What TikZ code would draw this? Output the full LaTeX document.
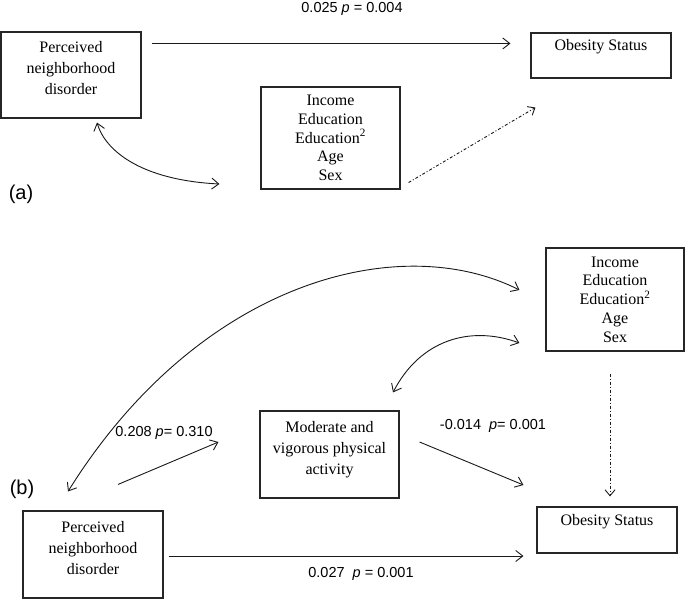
\documentclass[tikz,border=0pt]{standalone}
\usepackage{fontspec}
\setmainfont{Liberation Serif}
\setsansfont{Liberation Sans}
\usetikzlibrary{arrows.meta,calc}
\begin{document}
\begin{tikzpicture}[x=1pt,y=-1pt,
  box/.style={draw=black!85,line width=1.1pt,rectangle,inner sep=0pt,align=center,font=\fontsize{16}{21}\selectfont},
  covbox/.style={box,font=\fontsize{16}{18.7}\selectfont},
  lbl/.style={font=\sffamily\fontsize{14.5}{17}\selectfont,inner sep=0pt},
  panel/.style={font=\sffamily\fontsize{20}{22}\selectfont,inner sep=0pt},
  arr/.style={draw=black!90,line width=0.9pt,-{Straight Barb[length=7pt,width=11pt]}},
  darr/.style={draw=black!90,line width=0.9pt,{Straight Barb[length=7pt,width=11pt]}-{Straight Barb[length=7pt,width=11pt]}},
  dd/.style={draw=black!90,line width=0.9pt,dash pattern=on 3pt off 2pt on 1pt off 2pt,-{Straight Barb[length=6pt,width=10pt]}}
]
\useasboundingbox (0,0) rectangle (685,599);
\fill[white] (0,0) rectangle (685,599);

% ---------- panel (a) ----------
\node[box,minimum width=140pt,minimum height=86pt] (A1) at (71,75) {Perceived\\neighborhood\\disorder\\[-7pt]\mbox{}};
\node[box,minimum width=140pt,minimum height=45pt] (ObA) at (601,55.5) {Obesity Status\\\mbox{}};
\node[covbox,minimum width=139pt,minimum height=102pt] (CovA) at (330.5,138) {Income\\Education\\Education\textsuperscript{2}\\Age\\Sex};
\node[lbl] (LA) at (352,9) {0.025 \textit{p} = 0.004};
\node[panel] (PA) at (21,194) {(a)};

\draw[arr] ($(A1.north east)+(10,12)$) -- ($(ObA.north west)+(-20,11)$);
\draw[dd] ($(CovA.south east)+(8,-7)$) -- ($(ObA.south west)+(5,29)$);
\draw[darr] ($(A1.south)+(26,4)$) .. controls (105,150) and (140,180) .. ($(CovA.west)+(-41,46)$);

% ---------- panel (b) ----------
\node[covbox,minimum width=138pt,minimum height=103pt] (CovB) at (615,299.5) {Income\\Education\\Education\textsuperscript{2}\\Age\\Sex};
\node[box,minimum width=139pt,minimum height=87pt] (MV) at (329.5,454.5) {Moderate and\\vigorous physical\\activity\\[-8pt]\mbox{}};
\node[box,minimum width=140pt,minimum height=87pt] (PB) at (93,554.5) {Perceived\\neighborhood\\disorder\\[-8pt]\mbox{}};
\node[box,minimum width=140pt,minimum height=46pt] (ObB) at (607,530) {Obesity Status\\\mbox{}};

\node[lbl] (L1) at (164,433) {0.208 \textit{p}= 0.310};
\node[lbl] (L2) at (493,426) {-0.014\ \ \textit{p}= 0.001};
\node[lbl] (L3) at (361,574) {0.027\ \ \textit{p} = 0.001};
\node[panel] (PBl) at (22,489) {(b)};

\draw[arr] ($(PB.north)+(25,-26)$) -- ($(MV.west)+(-41,-12.5)$);
\draw[arr] ($(MV.east)+(20,-12.5)$) -- ($(ObB.west)+(-13,-45)$);
\draw[arr] ($(PB.east)+(5,1.5)$) -- ($(ObB.west)+(-13,26)$);
\draw[darr] ($(PB.north)+(-25,-19)$) .. controls (200,280) and (400,230) .. ($(CovB.west)+(-26,-9.5)$);
\draw[darr] ($(MV.north)+(63.5,-18)$) .. controls (420,340) and (470,325) .. ($(CovB.west)+(-26,43.5)$);
\draw[dd] ($(CovB.south)+(-5,22)$) -- ($(ObB.north)+(3,-10)$);
\end{tikzpicture}
\end{document}
